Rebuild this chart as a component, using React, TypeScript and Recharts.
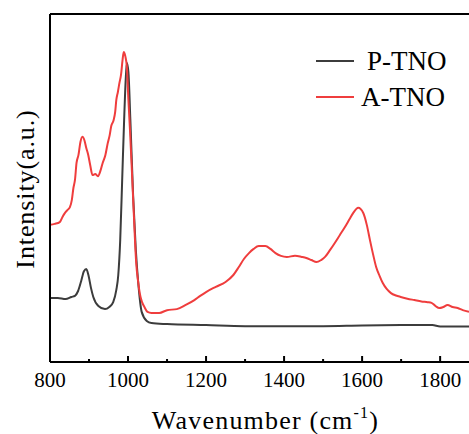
import { LineChart, Line, XAxis, YAxis, ReferenceLine, Legend } from 'recharts';

const xTicks = [800, 900, 1000, 1100, 1200, 1300, 1400, 1500, 1600, 1700, 1800];

// P-TNO (wavenumber, intensity a.u.)
const pWave = [800, 820, 840, 855, 864, 872, 880, 887, 893, 899, 905, 911, 924, 941, 952, 962, 970, 975, 980, 985, 990, 994, 997, 1001, 1006, 1013, 1020, 1026, 1035, 1048, 1060, 1100, 1200, 1300, 1400, 1500, 1600, 1700, 1780, 1800, 1874];
const pInt = [18.4, 18.4, 18.1, 18.7, 19.0, 20.4, 23.3, 26.1, 26.7, 24.7, 21.3, 18.7, 16.1, 15.2, 15.8, 17.2, 20.7, 25.0, 35.1, 52.3, 69.5, 81.0, 85.9, 83.3, 69.5, 48.0, 32.2, 23.0, 14.4, 11.8, 11.2, 10.9, 10.6, 10.3, 10.3, 10.3, 10.5, 10.6, 10.6, 10.2, 10.2];

// A-TNO
const aWave = [800, 812, 825, 832, 838, 845, 851, 856, 860, 864, 868, 873, 878, 883, 888, 893, 898, 903, 909, 916, 923, 930, 935, 942, 948, 953, 957, 963, 967, 970, 974, 978, 982, 986, 989, 993, 997, 1001, 1005, 1009, 1015, 1021, 1026, 1030, 1036, 1042, 1050, 1060, 1080, 1100, 1125, 1148, 1170, 1185, 1200, 1225, 1250, 1270, 1284, 1297, 1310, 1322, 1335, 1352, 1365, 1378, 1392, 1407, 1428, 1445, 1457, 1470, 1483, 1495, 1505, 1518, 1530, 1543, 1556, 1568, 1577, 1590, 1603, 1612, 1620, 1628, 1636, 1645, 1653, 1663, 1674, 1687, 1699, 1716, 1734, 1752, 1768, 1778, 1788, 1798, 1808, 1819, 1832, 1845, 1858, 1874];
const aInt = [39.4, 39.7, 40.2, 41.7, 42.8, 43.7, 44.5, 46.6, 50.0, 52.3, 57.2, 59.5, 63.2, 64.7, 63.8, 61.5, 59.5, 56.6, 53.7, 54.0, 53.4, 55.2, 57.2, 59.5, 62.9, 65.2, 67.8, 69.5, 71.8, 75.3, 77.6, 80.2, 82.5, 86.8, 89.1, 87.9, 84.8, 75.3, 66.7, 57.2, 42.2, 28.4, 23.0, 19.8, 17.2, 15.8, 14.4, 14.1, 14.1, 14.9, 15.2, 16.4, 17.8, 19.0, 20.1, 21.6, 23.0, 25.0, 27.3, 29.6, 31.3, 32.5, 33.3, 33.3, 32.5, 31.3, 30.5, 30.2, 30.5, 30.2, 29.9, 29.3, 28.7, 29.3, 30.2, 32.2, 34.2, 36.5, 38.8, 41.1, 42.8, 44.3, 42.8, 39.4, 35.1, 31.0, 27.3, 24.7, 22.7, 21.0, 19.8, 19.1, 18.7, 18.2, 17.8, 17.4, 17.2, 17.0, 16.1, 15.5, 15.8, 16.4, 15.8, 15.5, 14.9, 14.4];

const pData = pWave.map((x, i) => ({ x, y: pInt[i] }));
const aData = aWave.map((x, i) => ({ x, y: aInt[i] }));

const FONT = '"Liberation Serif", "Times New Roman", serif';
const BLACK = '#3c3c3c';
const RED = '#ef3d3d';

const Tick = (props: any) => {
  const { x, y, payload } = props;
  const major = payload.value % 200 === 0;
  return (
    <g>
      <line x1={x} x2={x} y1={y} y2={y - (major ? 6 : 3)} stroke="#000" strokeWidth={2} />
      {major && (
        <text x={x} y={y + 25} textAnchor="middle" fontSize={21} fontFamily={FONT} fill="#000">
          {payload.value}
        </text>
      )}
    </g>
  );
};

const XTitle = (props: any) => {
  const vb = props.viewBox;
  return (
    <text x={vb.x + vb.width / 2 + 6} y={vb.y + vb.height - 5} textAnchor="middle" fontSize={26} letterSpacing={1.2} fontFamily={FONT} fill="#000">
      Wavenumber (cm<tspan dy={-11} fontSize={16}>-1</tspan><tspan dy={11}>)</tspan>
    </text>
  );
};

const LegendBox = () => (
  <div style={{ fontFamily: FONT, fontSize: 27, color: '#000', textAlign: 'left' }}>
    {[
      { name: 'P-TNO', color: BLACK, gap: 13 },
      { name: 'A-TNO', color: RED, gap: 7 },
    ].map((it) => (
      <div key={it.name} style={{ display: 'flex', alignItems: 'center', height: 36, whiteSpace: 'pre' }}>
        <svg width={38} height={4}>
          <line x1={0} x2={38} y1={2} y2={2} stroke={it.color} strokeWidth={2} />
        </svg>
        <span style={{ marginLeft: it.gap }}>{it.name}</span>
      </div>
    ))}
  </div>
);

export default function App() {
  return (
    <div style={{ position: 'absolute', left: 0, top: 0, width: 469, height: 434, background: '#fff' }}>
      <LineChart width={469} height={434} margin={{ top: 14, right: 0, left: 0, bottom: 0 }}>
        <XAxis
          type="number"
          dataKey="x"
          domain={[800, 1874]}
          ticks={xTicks}
          allowDataOverflow
          height={72}
          tickSize={0}
          tickMargin={0}
          tickLine={false}
          tick={<Tick />}
          axisLine={{ stroke: '#000', strokeWidth: 2 }}
          label={<XTitle />}
        />
        <YAxis
          type="number"
          domain={[0, 100]}
          width={50}
          tick={false}
          tickLine={false}
          axisLine={{ stroke: '#000', strokeWidth: 2 }}
          label={{ value: 'Intensity(a.u.)', angle: -90, position: 'center', dx: 0, dy: 1, style: { fontFamily: FONT, fontSize: 26, letterSpacing: 0.9, fill: '#000' } }}
        />
        <ReferenceLine y={100} stroke="#000" strokeWidth={2} />
        <Legend
          layout="vertical"
          verticalAlign="middle"
          align="center"
          wrapperStyle={{ top: 43, left: 316, width: 150 }}
          content={<LegendBox />}
        />
        <Line data={pData} dataKey="y" type="monotone" stroke={BLACK} strokeWidth={2} dot={false} isAnimationActive={false} />
        <Line data={aData} dataKey="y" type="monotone" stroke={RED} strokeWidth={2} dot={false} isAnimationActive={false} />
      </LineChart>
    </div>
  );
}
